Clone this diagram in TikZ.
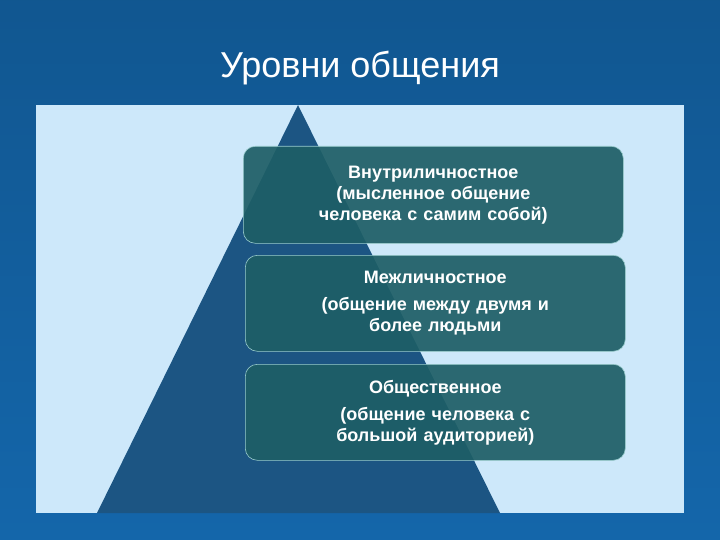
\documentclass[tikz,border=0pt]{standalone}
\usepackage{fontspec}
\setmainfont{Liberation Sans}
\begin{document}
\begin{tikzpicture}[x=1pt,y=-1pt,
  lvl/.style={draw=white!60!teal, line width=0.6pt, fill=boxc, fill opacity=0.92, text opacity=1, rounded corners=12pt, minimum width=380pt, text width=360pt, align=center, text=white, font=\fontsize{18}{21}\selectfont\bfseries, anchor=north west}]
\definecolor{bgc}{HTML}{1466AA}
\definecolor{panelc}{HTML}{CDE8FA}
\definecolor{trc}{HTML}{1C5583}
\definecolor{boxc}{HTML}{1E5E66}
\useasboundingbox (0,0) rectangle (720,540);
\shade[top color=bgc!85!black, bottom color=bgc] (0,0) rectangle (720,540);
\node[text=white, font=\fontsize{36}{40}\selectfont] (title) at (360,68) {Уровни общения};
\fill[panelc] (36,105) rectangle (684,513);
\fill[trc] (298,105) -- (500,513) -- (97,513) -- cycle;
\node[lvl, minimum height=97pt] (a) at (243,146) {Внутриличностное\\(мысленное общение\\человека с самим собой)};
\node[lvl, minimum height=96pt] (b) at (245,255) {Межличностное\\[6pt](общение между двумя и\\более людьми};
\node[lvl, minimum height=96pt] (c) at (245,364) {Общественное\\[6pt](общение человека с\\большой аудиторией)};
\end{tikzpicture}
\end{document}
